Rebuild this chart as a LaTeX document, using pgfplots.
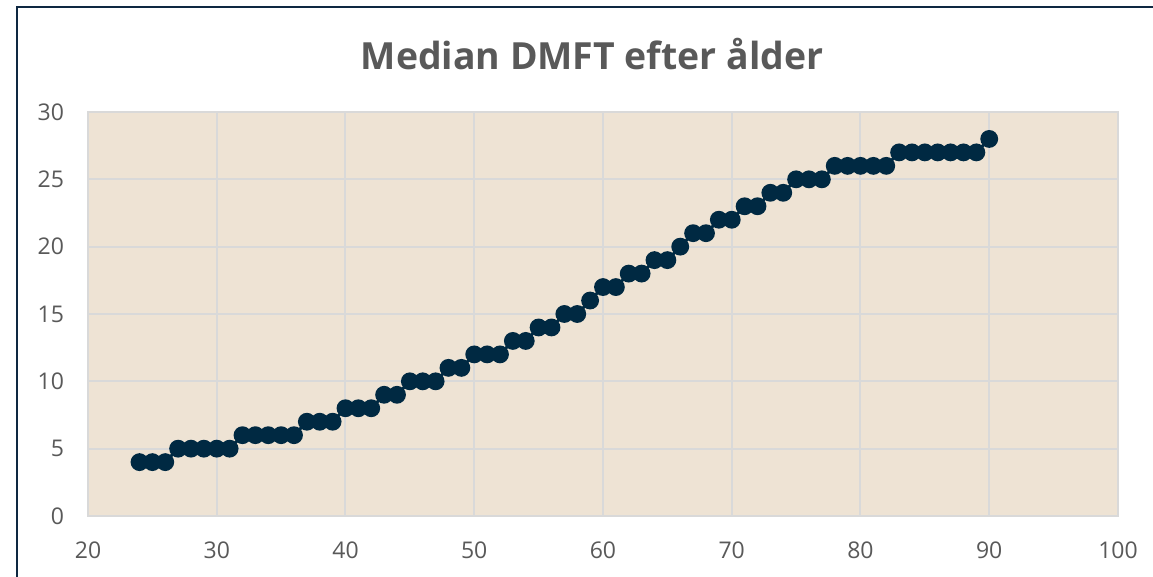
\documentclass[border=0pt]{standalone}
\usepackage{fontspec}
\setmainfont{Open Sans}
\usepackage{pgfplots}
\pgfplotsset{compat=1.18}

\definecolor{plotbg}{RGB}{238,227,212}
\definecolor{gridgray}{RGB}{217,217,217}
\definecolor{navy}{RGB}{0,41,66}
\definecolor{framenavy}{RGB}{14,40,65}
\definecolor{ticktext}{RGB}{89,89,89}

\begin{document}
\begin{tikzpicture}
% 1 px of the reference = 0.5pt
\fill[white] (0,0) rectangle (576.5pt,288.5pt);
\useasboundingbox (0,0) rectangle (576.5pt,288.5pt);

\begin{axis}[
  at={(44pt,30.5pt)}, anchor=south west,
  scale only axis, width=515pt, height=202pt,
  xmin=20, xmax=100, ymin=0, ymax=30,
  xtick={20,30,...,100}, ytick={0,5,...,30},
  axis background/.style={fill=plotbg},
  grid=major,
  major grid style={gridgray, line width=1pt},
  axis line style={gridgray, line width=1pt},
  tick style={draw=none},
  ticklabel style={font=\fontsize{11.5}{13}\selectfont, text=ticktext},
  /pgf/number format/assume math mode=true,
  yticklabel style={xshift=-8.5pt},
  xticklabel style={yshift=-9.5pt},
  clip=false,
]
\addplot[navy, line width=1.5pt, mark=*, mark size=3.7pt,
  mark options={fill=navy, draw=navy}] coordinates {
  (24,4)(25,4)(26,4)(27,5)(28,5)(29,5)(30,5)(31,5)(32,6)(33,6)(34,6)(35,6)(36,6)
  (37,7)(38,7)(39,7)(40,8)(41,8)(42,8)(43,9)(44,9)(45,10)(46,10)(47,10)(48,11)(49,11)
  (50,12)(51,12)(52,12)(53,13)(54,13)(55,14)(56,14)(57,15)(58,15)(59,16)(60,17)(61,17)
  (62,18)(63,18)(64,19)(65,19)(66,20)(67,21)(68,21)(69,22)(70,22)(71,23)(72,23)(73,24)
  (74,24)(75,25)(76,25)(77,25)(78,26)(79,26)(80,26)(81,26)(82,26)(83,27)(84,27)(85,27)
  (86,27)(87,27)(88,27)(89,27)(90,28)
};
\end{axis}

\node[text=ticktext, font=\fontsize{18.7}{22}\selectfont\bfseries] at (296pt,261.5pt) {Median DMFT efter ålder};

% outer chart frame (right and bottom edges lie outside the picture)
\draw[framenavy, line width=1pt] (8.5pt,0) -- (8.5pt,285pt) -- (576.5pt,285pt);
\end{tikzpicture}
\end{document}
